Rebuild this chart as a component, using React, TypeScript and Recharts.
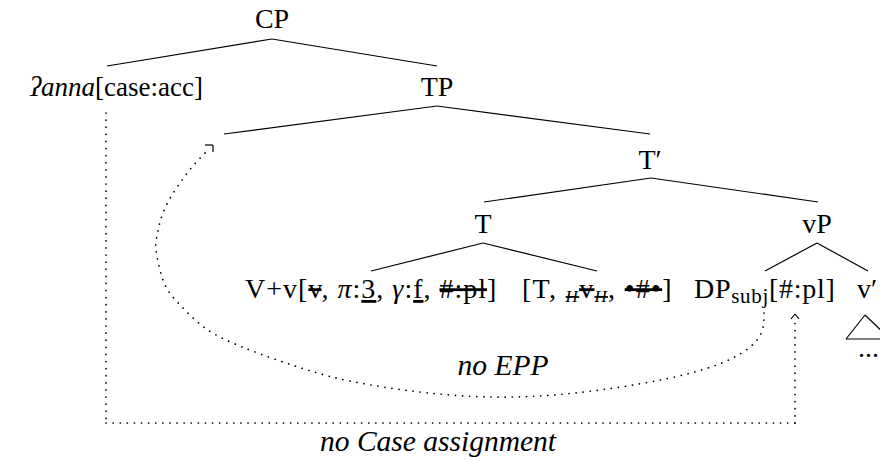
import React from 'react';
import { ComposedChart, XAxis, YAxis, ReferenceLine, Scatter, Line } from 'recharts';

const W = 880;
const H = 461;
const FONT = '"Liberation Serif", "Times New Roman", serif';

// node labels: id, anchor x, baseline y, text anchor
const nodeIds = ['CP', 'anna', 'TP', 'Tbar', 'T', 'vP', 'Vv', 'Tfeat', 'DP', 'vbar', 'dots', 'noEPP', 'noCase'];
const nodeX = [272, 30, 437, 650, 483, 817, 245, 522, 694, 857, 858, 503, 438];
const nodeY = [28, 96, 96, 169, 233, 233, 298, 298, 298, 298, 357, 375, 451];
const nodeAnchor = ['middle', 'start', 'middle', 'middle', 'middle', 'middle', 'start', 'start', 'start', 'start', 'start', 'middle', 'middle'];

// tree branches [x1, y1, x2, y2]
const branches = [
  [272, 39, 107, 66],
  [272, 39, 437, 66],
  [437, 106, 224, 134],
  [437, 106, 650, 134],
  [651, 178, 484, 202],
  [651, 178, 818, 202],
  [483, 243, 371, 271],
  [483, 243, 597, 271],
  [817, 243, 765, 271],
  [817, 243, 868, 271],
  // triangle under v'
  [865, 315, 846, 339],
  [865, 315, 890, 339],
  [846, 339, 890, 339],
  // arrow heads
  [213, 145, 205, 145],
  [213, 145, 213, 152],
  [795, 314, 791, 319],
  [795, 314, 799, 319],
];

// dotted case path
const casePath = [
  [106, 113, 106, 423],
  [106, 423, 795, 423],
  [795, 423, 795, 317],
];

// dotted EPP curve
const eppX = [764, 757, 711, 614, 490, 371, 298, 226, 192, 172, 162, 156, 157, 160, 168, 180, 192, 207];
const eppY = [313, 340, 367, 388, 397, 385, 367, 340, 317, 296, 277, 250, 236, 222, 202, 183, 167, 151];

const nodes = nodeIds.map((id, i) => ({ id, x: nodeX[i], y: nodeY[i], anchor: nodeAnchor[i] }));
const eppData = eppX.map((x, i) => ({ x, y: eppY[i] }));

const strike = { textDecoration: 'line-through' } as React.CSSProperties;
const under = { textDecoration: 'underline' } as React.CSSProperties;

function labelContent(id: string) {
  switch (id) {
    case 'CP':
      return 'CP';
    case 'anna':
      return (
        <>
          <tspan fontStyle="italic">ʔanna</tspan>
          <tspan>[case:acc]</tspan>
        </>
      );
    case 'TP':
      return 'TP';
    case 'Tbar':
      return 'T′';
    case 'T':
      return 'T';
    case 'vP':
      return 'vP';
    case 'Vv':
      return (
        <>
          <tspan>V+v[</tspan>
          <tspan style={strike}>v</tspan>
          <tspan>, </tspan>
          <tspan fontStyle="italic">π</tspan>
          <tspan>:</tspan>
          <tspan style={under}>3</tspan>
          <tspan>, </tspan>
          <tspan fontStyle="italic">γ</tspan>
          <tspan>:</tspan>
          <tspan style={under}>f</tspan>
          <tspan>, </tspan>
          <tspan style={strike}>#:pl</tspan>
          <tspan>]</tspan>
        </>
      );
    case 'Tfeat':
      return (
        <>
          <tspan>[T, </tspan>
          <tspan style={strike}>
            <tspan fontStyle="italic" fontSize={17} dy={4}>H</tspan>
            <tspan dy={-4}>v</tspan>
            <tspan fontStyle="italic" fontSize={17} dy={4}>H</tspan>
          </tspan>
          <tspan dy={-4}>, </tspan>
          <tspan style={strike}>•#•</tspan>
          <tspan>]</tspan>
        </>
      );
    case 'DP':
      return (
        <>
          <tspan>DP</tspan>
          <tspan fontSize={21} dy={5}>subj</tspan>
          <tspan dy={-5}>[#:pl]</tspan>
        </>
      );
    case 'vbar':
      return 'v′';
    case 'dots':
      return '...';
    case 'noEPP':
      return <tspan fontStyle="italic">no EPP</tspan>;
    case 'noCase':
      return <tspan fontStyle="italic">no Case assignment</tspan>;
    default:
      return '';
  }
}

const sizeOf: Record<string, number> = { anna: 27, noEPP: 29.5, noCase: 29.5 };
const spacingOf: Record<string, number> = { Vv: 1.0, Tfeat: 1.3, DP: 0.7 };

const NodeLabel = (props: any) => {
  const { cx, cy, payload } = props;
  return (
    <text
      x={cx}
      y={cy}
      textAnchor={payload.anchor}
      fontFamily={FONT}
      fontSize={sizeOf[payload.id] ?? 28}
      letterSpacing={spacingOf[payload.id] ?? 0}
      fill="#000"
    >
      {labelContent(payload.id)}
    </text>
  );
};

export default function App() {
  return (
    <div style={{ position: 'absolute', left: 0, top: 0, width: W, height: H, background: '#fff' }}>
      <ComposedChart width={W} height={H} margin={{ top: 0, right: 0, bottom: 0, left: 0 }}>
        <XAxis type="number" dataKey="x" domain={[0, W]} hide allowDataOverflow />
        <YAxis type="number" dataKey="y" domain={[0, H]} reversed hide allowDataOverflow />
        {branches.map((b, i) => (
          <ReferenceLine
            key={'b' + i}
            segment={[{ x: b[0], y: b[1] }, { x: b[2], y: b[3] }]}
            stroke="#000"
            strokeWidth={1.2}
            ifOverflow="visible"
          />
        ))}
        {casePath.map((b, i) => (
          <ReferenceLine
            key={'c' + i}
            segment={[{ x: b[0], y: b[1] }, { x: b[2], y: b[3] }]}
            stroke="#000"
            strokeWidth={1.7}
            strokeDasharray="0.1 7"
            strokeLinecap="round"
            ifOverflow="visible"
          />
        ))}
        <Line
          data={eppData}
          dataKey="y"
          type="natural"
          stroke="#000"
          strokeWidth={1.7}
          strokeDasharray="0.1 7"
          strokeLinecap="round"
          dot={false}
          activeDot={false}
          isAnimationActive={false}
        />
        <Scatter data={nodes} dataKey="y" shape={NodeLabel} isAnimationActive={false} />
      </ComposedChart>
    </div>
  );
}
